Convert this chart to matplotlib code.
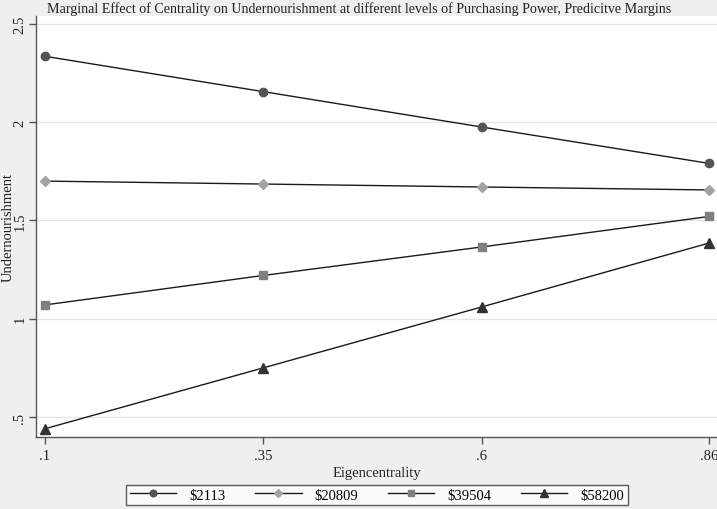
import matplotlib
matplotlib.use("Agg")
import matplotlib.pyplot as plt

plt.rcParams['font.family'] = ['Liberation Serif', 'DejaVu Serif']

# data
x_vals = [0.1, 0.35, 0.6, 0.86]
x_ticklabels = ['.1', '.35', '.6', '.86']
y_ticks = [0.5, 1.0, 1.5, 2.0, 2.5]
y_ticklabels = ['.5', '1', '1.5', '2', '2.5']

labels = ['$2113', '$20809', '$39504', '$58200']
pp_2113 = [2.335, 2.155, 1.975, 1.79]
pp_20809 = [1.70, 1.685, 1.67, 1.655]
pp_39504 = [1.07, 1.22, 1.365, 1.52]
pp_58200 = [0.44, 0.75, 1.06, 1.385]

series = [pp_2113, pp_20809, pp_39504, pp_58200]
markers = ['o', 'D', 's', '^']
mcolors = ['#545454', '#a3a3a3', '#7f7f7f', '#333333']
msizes = [6, 5.5, 6, 6.5]

bg = '#efefef'
fig = plt.figure(figsize=(7.17, 5.10), dpi=100, facecolor=bg)
ax = fig.add_axes([36 / 717, 72 / 510, 681 / 717, 421 / 510])
ax.set_facecolor('white')

handles = []
for vals, lab, mk, mc, ms in zip(series, labels, markers, mcolors, msizes):
    h, = ax.plot(x_vals, vals, color='#1a1a1a', linewidth=1.0,
                 marker=mk, markersize=ms, markerfacecolor=mc,
                 markeredgecolor=mc, label=lab.replace('$', r'\$'))
    handles.append(h)

ax.set_xlim(0.0897, 0.869)
ax.set_ylim(0.398, 2.54)
ax.set_xticks(x_vals)
ax.set_xticklabels(x_ticklabels)
ax.set_yticks(y_ticks)
ax.set_yticklabels(y_ticklabels, rotation=90, va='center')

ax.yaxis.grid(True, color='#e4e4e4', linewidth=0.9)
ax.set_axisbelow(True)
for side in ['top', 'right']:
    ax.spines[side].set_visible(False)
for side in ['left', 'bottom']:
    ax.spines[side].set_color('#555555')
    ax.spines[side].set_linewidth(1.0)

ax.tick_params(axis='both', direction='out', length=5, width=1,
               color='#555555', labelsize=10.5, labelcolor='#222222')
ax.tick_params(axis='x', pad=4)
ax.tick_params(axis='y', pad=2)

ax.set_xlabel('Eigencentrality', fontsize=10.5, color='#222222')
ax.xaxis.set_label_coords((377 - 36) / 681, -(467 - 438) / 421)
ax.set_ylabel('Undernourishment', fontsize=10.5, color='#222222', va='center')
ax.yaxis.set_label_coords(-(36 - 8) / 681, 0.5)
fig.text(359 / 717, 1 - 9 / 510, 'Marginal Effect of Centrality on Undernourishment at different levels '
         'of Purchasing Power, Predicitve Margins', ha='center', va='center',
         fontsize=10.1, color='#222222')

leg = fig.legend(handles=handles, loc='center', bbox_to_anchor=(377 / 717, 1 - 496 / 510),
                 ncol=4, frameon=True, fancybox=False, fontsize=10.5,
                 handlelength=3.2, columnspacing=2.0, handletextpad=0.9,
                 borderpad=0.25, markerscale=0.8)
leg.get_frame().set_edgecolor('#333333')
leg.get_frame().set_linewidth(1.0)

fig.savefig('out.png', dpi=100, facecolor=bg)
